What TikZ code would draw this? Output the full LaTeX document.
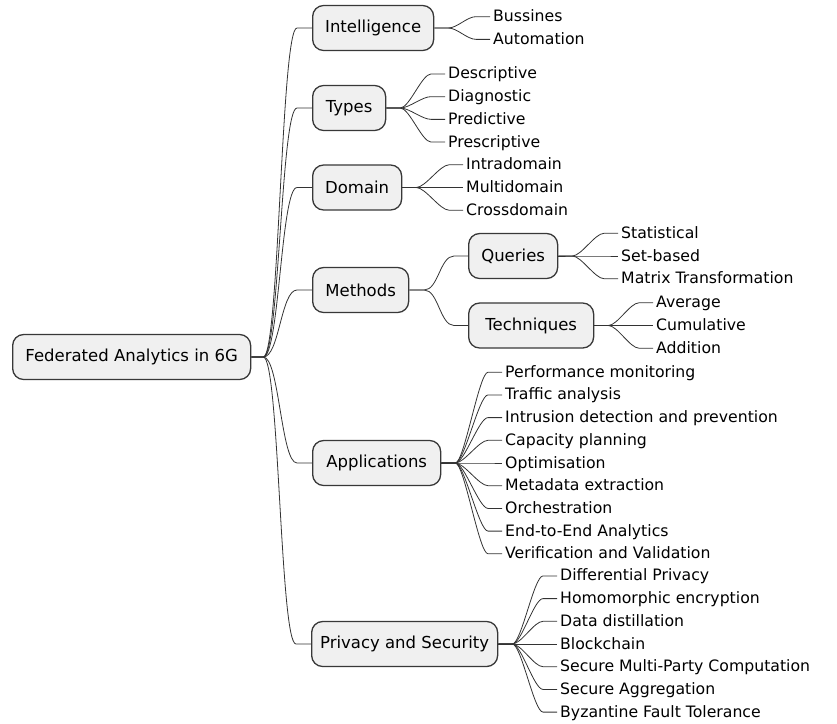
\documentclass[tikz,border=0pt]{standalone}
\usepackage{fontspec}
\setmainfont{DejaVu Sans}
\usetikzlibrary{positioning}

\tikzset{
  topic/.style={draw=black!78, fill=black!6, line width=1.3pt, rounded corners=11pt,
    anchor=west, minimum height=45pt, inner xsep=4pt, font=\fontsize{16.5}{19}\selectfont},
  leaf/.style={anchor=west, inner xsep=3pt, inner ysep=0pt, text height=11pt, text depth=1pt,
    font=\fontsize{15.7}{18}\selectfont},
  link/.style={draw=black!80, line width=0.8pt}
}

\begin{document}
\begin{tikzpicture}[x=1pt,y=-1pt]
\useasboundingbox (0,0) rectangle (837,723);

% main topics
\node[topic, minimum width=238pt] (root) at (12,357) {Federated Analytics in 6G};
\node[topic, minimum width=121pt] (intel) at (312,28) {Intelligence};
\node[topic, minimum width=73pt] (types) at (312,108) {Types};
\node[topic, minimum width=89pt] (domain) at (312,187.5) {Domain};
\node[topic, minimum width=96pt] (methods) at (312,290) {Methods};
\node[topic, minimum width=89pt] (queries) at (468,256) {Queries};
\node[topic, minimum width=125pt] (tech) at (468,325.5) {Techniques};
\node[topic, minimum width=128pt] (apps) at (312,463) {Applications};
\node[topic, minimum width=186pt] (priv) at (311,644) {Privacy and Security};

% root to topics
\foreach \t in {intel,types,domain,methods,apps,priv}
  \draw[link] (root.east) -- ++(12,0) .. controls +(16,0) and +(-16,0) .. ([xshift=-15pt]\t.west) -- (\t.west);
\foreach \t in {queries,tech}
  \draw[link] (methods.east) -- ++(15,0) .. controls +(14,0) and +(-14,0) .. ([xshift=-14pt]\t.west) -- (\t.west);

% leaves
\foreach \l [count=\i] in {Bussines,Automation}
  \node[leaf] (in-\i) at (490,{28+22.7*(\i-1.5)}) {\l};
\foreach \l [count=\i] in {Descriptive,Diagnostic,Predictive,Prescriptive}
  \node[leaf] (ty-\i) at (445,{108+22.7*(\i-2.5)}) {\l};
\foreach \l [count=\i] in {Intradomain,Multidomain,Crossdomain}
  \node[leaf] (do-\i) at (463,{187.5+22.7*(\i-2)}) {\l};
\foreach \l [count=\i] in {Statistical,Set-based,Matrix Transformation}
  \node[leaf] (qu-\i) at (618,{256+22.7*(\i-2)}) {\l};
\foreach \l [count=\i] in {Average,Cumulative,Addition}
  \node[leaf] (te-\i) at (653,{325.5+22.7*(\i-2)}) {\l};
\foreach \l [count=\i] in {Performance monitoring,Traffic analysis,Intrusion detection and prevention,
    Capacity planning,Optimisation,Metadata extraction,Orchestration,End-to-End Analytics,
    Verification and Validation}
  \node[leaf] (ap-\i) at (502,{463+22.7*(\i-5)}) {\l};
\foreach \l [count=\i] in {Differential Privacy,Homomorphic encryption,Data distillation,Blockchain,
    Secure Multi-Party Computation,Secure Aggregation,Byzantine Fault Tolerance}
  \node[leaf] (pr-\i) at (557,{644+22.7*(\i-4)}) {\l};

% leaf connectors
\foreach \p/\c/\n in {intel/in/2,types/ty/4,domain/do/3,queries/qu/3,tech/te/3,apps/ap/9,priv/pr/7}
  \foreach \i in {1,...,\n}
    \draw[link] (\p.east) -- ++(14,0) .. controls +(9,0) and +(-9,0) .. ([xshift=-14pt]\c-\i.west) -- (\c-\i.west);
\end{tikzpicture}
\end{document}
